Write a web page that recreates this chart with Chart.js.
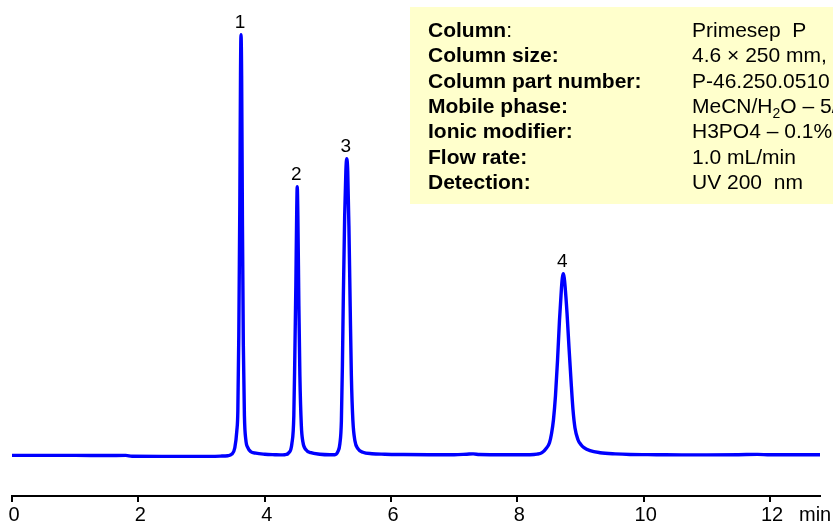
<!DOCTYPE html>
<html>
<head>
<meta charset="utf-8">
<script src="https://cdn.jsdelivr.net/npm/chart.js@4/dist/chart.umd.min.js"></script>
<style>
  body { margin: 0; background: #fff; }
  #wrap { width: 833px; height: 525px; }
</style>
</head>
<body>
<div id="wrap"><canvas id="chart" width="833" height="525"></canvas></div>
<script>
// retention time (min) and detector signal
const retentionTimes = [
  0, 0.5, 1.0, 1.5, 1.8, 1.9, 2.5, 3.0, 3.3,
  3.416, 3.479, 3.527, 3.559, 3.575, 3.590, 3.606, 3.617, 3.625, 3.635, 3.648, 3.662, 3.679, 3.701, 3.733, 3.780, 3.860, 4.002, 4.161,
  4.25,
  4.319, 4.382, 4.430, 4.461, 4.477, 4.493, 4.506, 4.515, 4.525, 4.541, 4.557, 4.580, 4.604, 4.652, 4.731, 4.873, 5.032,
  5.111, 5.158, 5.190, 5.214, 5.230, 5.245, 5.266, 5.285, 5.298, 5.314, 5.333, 5.353, 5.372, 5.396, 5.428, 5.475, 5.554, 5.697, 5.903,
  6.2, 6.6, 7.0, 7.2, 7.3, 7.4, 7.8, 8.0,
  8.199, 8.310, 8.389, 8.452, 8.508, 8.540, 8.571, 8.603, 8.635, 8.666, 8.698, 8.712, 8.727, 8.741, 8.754, 8.786, 8.817, 8.849, 8.880, 8.911, 8.959, 9.007, 9.054, 9.150, 9.308, 9.546, 9.783,
  10.2, 10.6, 11.0, 11.5, 11.8, 12.0, 12.4, 12.79
];
const signal = [
  0.3, 0.3, 0.3, 0.2, 0.3, -0.6, -0.7, -0.7, -0.4,
  0, 1.5, 8, 25, 45, 120, 250, 380, 421, 380, 230, 110, 40, 16, 8, 4, 2.5, 1.5, 1,
  0.8,
  1, 3, 12, 40, 100, 170, 240, 269, 240, 150, 80, 30, 14, 6, 3, 1.5, 1,
  1, 4, 12, 35, 90, 160, 240, 285, 297, 285, 230, 150, 80, 35, 15, 7, 3.5, 2, 1.5,
  1.2, 1, 1, 1.5, 1.8, 1.2, 1, 1,
  1, 1.5, 3, 7, 13, 22, 36, 60, 95, 135, 168, 178, 182, 178, 170, 142, 108, 75, 46, 28, 16, 11, 8, 5, 3, 1.8, 1.2,
  1, 0.8, 0.8, 1.0, 1.3, 0.9, 1, 1
];

const peakNames = ["1", "2", "3", "4"];
const peakTimes = [3.625, 4.515, 5.298, 8.727];
const peakHeights = [421, 269, 297, 182];

const xTicks = [0, 2, 4, 6, 8, 10, 12];
const xUnit = "min";

const infoLabels = ["Column", "Column size:", "Column part number:", "Mobile phase:", "Ionic modifier:", "Flow rate:", "Detection:"];
const infoValues = ["Primesep  P", "4.6 \u00d7 250 mm, 5 \u00b5m, 100 \u00c5", "P-46.250.0510", "MeCN/H|2|O \u2013 5/95%", "H3PO4 \u2013 0.1%", "1.0 mL/min", "UV 200  nm"];

const points = retentionTimes.map((t, i) => ({ x: t, y: signal[i] }));

// info box, peak numbers and the unit label
const overlay = {
  id: 'overlay',
  afterDraw(chart) {
    const ctx = chart.ctx;
    const xs = chart.scales.x;
    const ys = chart.scales.y;
    ctx.save();

    ctx.fillStyle = '#ffffcc';
    ctx.fillRect(410, 7, 430, 197);

    ctx.fillStyle = '#000';
    ctx.textBaseline = 'alphabetic';
    ctx.textAlign = 'left';
    infoLabels.forEach((label, i) => {
      const y = 36.7 + i * 25.43;
      ctx.font = 'bold 21px "Liberation Sans", Arial, sans-serif';
      ctx.fillText(label, 428, y);
      if (i === 0) {
        const w = ctx.measureText(label).width;
        ctx.font = '21px "Liberation Sans", Arial, sans-serif';
        ctx.fillText(':', 428 + w, y);
      }
      // value, with |..| marking a subscript
      let x = 692;
      infoValues[i].split('|').forEach((part, j) => {
        if (j % 2 === 1) {
          ctx.font = '14px "Liberation Sans", Arial, sans-serif';
          ctx.fillText(part, x, y + 5);
        } else {
          ctx.font = '21px "Liberation Sans", Arial, sans-serif';
          ctx.fillText(part, x, y);
        }
        x += ctx.measureText(part).width;
      });
    });

    ctx.font = '19px "Liberation Sans", Arial, sans-serif';
    ctx.textAlign = 'center';
    peakNames.forEach((name, i) => {
      ctx.fillText(name, xs.getPixelForValue(peakTimes[i]) - 1, ys.getPixelForValue(peakHeights[i]) - 7);
    });

    ctx.font = '20px "Liberation Sans", Arial, sans-serif';
    ctx.textAlign = 'left';
    ctx.fillText(xUnit, 799, 521);
    ctx.restore();
  }
};

new Chart(document.getElementById('chart'), {
  type: 'line',
  data: {
    datasets: [{
      data: points,
      borderColor: '#0000ff',
      borderWidth: 3.4,
      pointRadius: 0,
      cubicInterpolationMode: 'monotone',
      borderJoinStyle: 'round',
      clip: false
    }]
  },
  options: {
    responsive: false,
    animation: false,
    layout: { padding: { left: 12, right: 13, top: 0, bottom: 0 } },
    plugins: { legend: { display: false }, tooltip: { enabled: false } },
    scales: {
      x: {
        type: 'linear',
        min: 0,
        max: 12.79,
        afterBuildTicks: (s) => { s.ticks = xTicks.map(v => ({ value: v })); },
        afterFit: (s) => { s.height = 29; },
        grid: { display: true, drawOnChartArea: false, drawTicks: true, tickLength: 6, color: '#000', lineWidth: 2 },
        border: { display: true, color: '#000', width: 2 },
        ticks: {
          color: '#000',
          font: { family: '"Liberation Sans", Arial, sans-serif', size: 20 },
          padding: 1,
          labelOffset: 2,
          maxRotation: 0,
          autoSkip: false
        }
      },
      y: { display: false, min: -40.3, max: 455.7 }
    }
  },
  plugins: [overlay]
});
</script>
</body>
</html>
